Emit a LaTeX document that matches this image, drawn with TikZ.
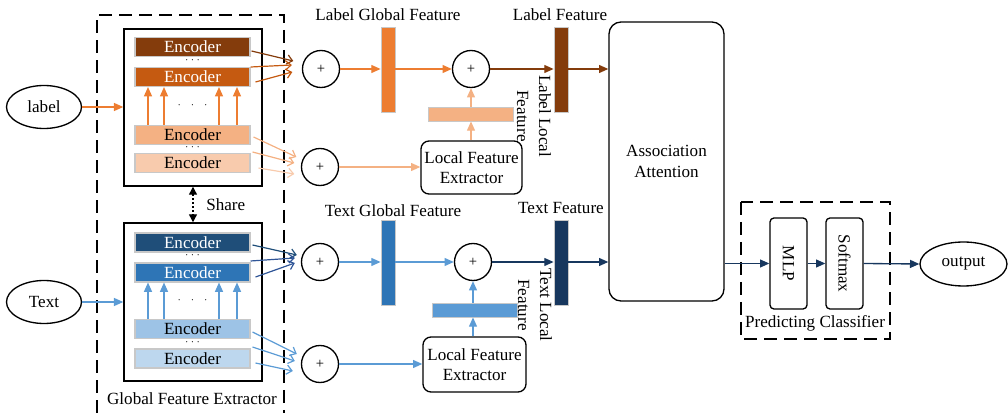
\documentclass[tikz,border=0pt]{standalone}
\usepackage{fontspec}
\setmainfont{Liberation Serif}
\usetikzlibrary{arrows.meta,shapes.geometric,calc}
\definecolor{lbdark}{HTML}{843C0C}
\definecolor{lbmid}{HTML}{C55A11}
\definecolor{lorange}{HTML}{ED7D31}
\definecolor{llightA}{HTML}{F4B183}
\definecolor{llightB}{HTML}{F8CBAD}
\definecolor{tdark}{HTML}{1F4E79}
\definecolor{tmid}{HTML}{2E75B6}
\definecolor{tblue}{HTML}{5B9BD5}
\definecolor{tlightA}{HTML}{9DC3E6}
\definecolor{tlightB}{HTML}{BDD7EE}
\definecolor{tnavy}{HTML}{17375E}
\definecolor{tarrow}{HTML}{2F5597}
\definecolor{encline}{HTML}{C8C8C8}
\newcommand\pxu{0.75pt}
\begin{document}
\begin{tikzpicture}[x=0.75pt,y=-0.75pt,
  every node/.style={font=\fontsize{12.8}{15.4}\selectfont, inner sep=0pt},
  enc/.style={draw=encline, line width=0.8pt, minimum width=115*\pxu, minimum height=19*\pxu},
  inbox/.style={draw, line width=1.1pt, minimum width=138*\pxu, minimum height=157*\pxu},
  circ/.style={circle, draw, line width=1pt, minimum size=37*\pxu, font=\fontsize{11}{11}\selectfont},
  vbar/.style={draw=encline, line width=0.6pt, minimum width=14*\pxu, minimum height=85*\pxu},
  hbar/.style={draw=encline, line width=0.6pt, minimum width=85*\pxu, minimum height=14*\pxu},
  rbox/.style={draw, line width=1pt, rounded corners=6pt, align=center},
  ell/.style={ellipse, draw, line width=1pt},
  dbox/.style={draw, line width=1pt, dash pattern=on 10pt off 5pt},
  arr/.style={line width=1pt, -{Triangle[length=7pt,width=6pt]}},
  barb/.style={line width=0.9pt, -{Straight Barb[length=4pt,width=7pt]}},
  dots/.style={font=\fontsize{7.5}{7.5}\selectfont, text height=2pt, text depth=0pt},
  lbl/.style={align=center}
]
\useasboundingbox (0,0) rectangle (1008,413);

% outer dashed box
\draw[dbox] (97,413) -- (97,15) -- (284,15) -- (284,413);
\node[lbl] (gfe) at (192,399) {Global Feature Extractor};

% inner boxes
\node[inbox] (box1) at (193,107.5) {};
\node[inbox, minimum height=158*\pxu] (box2) at (193,302) {};

% label encoders
\node[enc, fill=lbdark, text=white] (e1) at (192.5,47) {Encoder};
\node[enc, fill=lbmid, text=white] (e2) at (192.5,77) {Encoder};
\node[enc, fill=llightA] (e3) at (192.5,135) {Encoder};
\node[enc, fill=llightB] (e4) at (192.5,163) {Encoder};
\node[dots] (d1) at (192.5,62) {·\ ·\ ·};
\node[dots] (d2) at (192.5,149) {·\ ·\ ·};
\node[dots] (d3) at (192.5,107) {·\quad·\quad·};

% text encoders
\node[enc, fill=tdark, text=white] (t1) at (192.5,242.5) {Encoder};
\node[enc, fill=tmid, text=white] (t2) at (192.5,272.5) {Encoder};
\node[enc, fill=tlightA] (t3) at (192.5,329) {Encoder};
\node[enc, fill=tlightB] (t4) at (192.5,358.5) {Encoder};
\node[dots] (d4) at (192.5,257.5) {·\ ·\ ·};
\node[dots] (d5) at (192.5,344) {·\ ·\ ·};
\node[dots] (d6) at (192.5,302) {·\quad·\quad·};

% up arrows
\foreach \dx in {-44.5,-28.5,26.5,44.5}{
  \draw[arr, lorange] ([xshift=\dx*\pxu]e3.north) -- ([xshift=\dx*\pxu]e2.south);
  \draw[arr, tblue] ([xshift=\dx*\pxu]t3.north) -- ([xshift=\dx*\pxu]t2.south);
}

% input ellipses
\node[ell, minimum width=75*\pxu, minimum height=43*\pxu] (label) at (44,107) {label};
\node[ell, minimum width=75*\pxu, minimum height=43*\pxu] (text) at (44,302) {Text};
\draw[arr, lorange] (label.east) -- (label.east -| box1.west);
\draw[arr, tblue] (text.east) -- (text.east -| box2.west);

% share
\draw[line width=1pt, dotted, {Triangle[length=6pt,width=6pt]}-{Triangle[length=6pt,width=6pt]}] (box1.south) -- (box2.north);
\node[anchor=west] (share) at (206,205) {Share};

% circles
\node[circ] (c1) at (321,69) {+};
\node[circ] (c2) at (320,167) {+};
\node[circ] (c3) at (471,69) {+};
\node[circ] (c4) at (320,262) {+};
\node[circ] (c5) at (320,364) {+};
\node[circ] (c6) at (473,262) {+};

% encoder -> circle arrows (label)
\draw[barb, lbdark] ([shift={(1,4)}]e1.east) -- ([shift={(-8.5,-8)}]c1.west);
\draw[barb, lbmid] ([shift={(0,-10)}]e2.east) -- ([shift={(-10,-4)}]c1.west);
\draw[barb, lbmid] ([shift={(5,5)}]e2.east) -- ([shift={(-9.5,3)}]c1.west);
\draw[barb, llightA] ([shift={(3,2)}]e3.east) -- ([shift={(-4.5,-10)}]c2.west);
\draw[barb, llightA] ([shift={(2,-11)}]e4.east) -- ([shift={(-6.5,-4)}]c2.west);
\draw[barb, llightB] ([shift={(8,5)}]e4.east) -- ([shift={(-6.5,7)}]c2.west);
% encoder -> circle arrows (text)
\draw[barb, tdark] ([shift={(2,2.5)}]t1.east) -- ([shift={(-4,-7)}]c4.west);
\draw[barb, tarrow] ([shift={(0,-11.5)}]t2.east) -- ([shift={(-6,-4)}]c4.west);
\draw[barb, tarrow] ([shift={(5,4.5)}]t2.east) -- ([shift={(-6,1)}]c4.west);
\draw[barb, tblue] ([shift={(2,3)}]t3.east) -- ([shift={(-4,-10)}]c5.west);
\draw[barb, tblue] ([shift={(2,-11.5)}]t4.east) -- ([shift={(-6,-3)}]c5.west);
\draw[barb, tblue] ([shift={(5,4.5)}]t4.east) -- ([shift={(-8,7)}]c5.west);

% label branch
\node[vbar, fill=lorange] (gbar1) at (388,69.5) {};
\node (gbl1) at (388,15) {Label Global Feature};
\node[hbar, fill=llightA] (lbar1) at (470.5,114) {};
\node[rbox, minimum width=101*\pxu, minimum height=53*\pxu] (lfe1) at (471.5,167.5) {Local Feature\\Extractor};
\node[vbar, fill=lbdark] (fbar1) at (561,69.5) {};
\node (fl1) at (560,15) {Label Feature};
\node[lbl, rotate=-90, font=\fontsize{12.8}{16.5}\selectfont] (ll1) at (534,116) {Label Local\\Feature};

\draw[arr, lorange] (c1.east) -- (c1.east -| gbar1.west);
\draw[arr, lorange] (gbar1.east |- c3) -- (c3.west);
\draw[arr, llightA] (c3.south |- lbar1.north) -- (c3.south);
\draw[arr, llightA] (c3.south |- lfe1.north) -- (c3.south |- lbar1.south);
\draw[arr, llightA] (c2.east) -- (c2.east -| lfe1.west);
\draw[arr, lbdark] (c3.east) -- (c3.east -| fbar1.west);

% text branch
\node[vbar, fill=tmid] (gbar2) at (388,262.5) {};
\node (gbl2) at (393,211) {Text Global Feature};
\node[hbar, fill=tblue] (lbar2) at (474.5,310) {};
\node[rbox, minimum width=103*\pxu, minimum height=55*\pxu] (lfe2) at (474.5,364.5) {Local Feature\\Extractor};
\node[vbar, fill=tnavy] (fbar2) at (561,262.5) {};
\node (fl2) at (561,208) {Text Feature};
\node[lbl, rotate=-90, font=\fontsize{12.8}{16.5}\selectfont] (ll2) at (535,305) {Text Local\\Feature};

\draw[arr, tblue] (c4.east) -- (c4.east -| gbar2.west);
\draw[arr, tblue] (gbar2.east |- c6) -- (c6.west);
\draw[arr, tblue] (c6.south |- lbar2.north) -- (c6.south);
\draw[arr, tblue] (c6.south |- lfe2.north) -- (c6.south |- lbar2.south);
\draw[arr, tblue] (c5.east) -- (c5.east -| lfe2.west);
\draw[arr, tnavy] (c6.east) -- (c6.east -| fbar2.west);

% association attention
\node[rbox, rounded corners=9pt, minimum width=115*\pxu, minimum height=279*\pxu, font=\fontsize{12.8}{15.8}\selectfont] (aa) at (666.5,161.5) {Association\\Attention};
\draw[arr, lbdark] (fbar1.east |- c3) -- (c3 -| aa.west);
\draw[arr, tnavy] (fbar2.east |- c6) -- (c6 -| aa.west);

% classifier
\draw[dbox] (741,202) rectangle (890,339);
\node (pc) at (815,323) {Predicting Classifier};
\node[rbox, rounded corners=3pt, minimum width=37*\pxu, minimum height=91*\pxu] (mlp) at (788.5,263.5) {};
\node[rotate=-90] (mlpt) at (mlp.center) {MLP};
\node[rbox, rounded corners=3pt, minimum width=37*\pxu, minimum height=91*\pxu] (soft) at (844.5,263.5) {};
\node[rotate=-90] (softt) at (soft.center) {Softmax};
\node[ell, minimum width=87*\pxu, minimum height=44*\pxu] (out) at (963.5,264) {output};
\draw[arr, tnavy] (aa.east |- mlp) -- (mlp.west);
\draw[arr, tnavy] (mlp.east) -- (soft.west);
\draw[arr, tnavy] (soft.east) -- (out.west);
\end{tikzpicture}
\end{document}
